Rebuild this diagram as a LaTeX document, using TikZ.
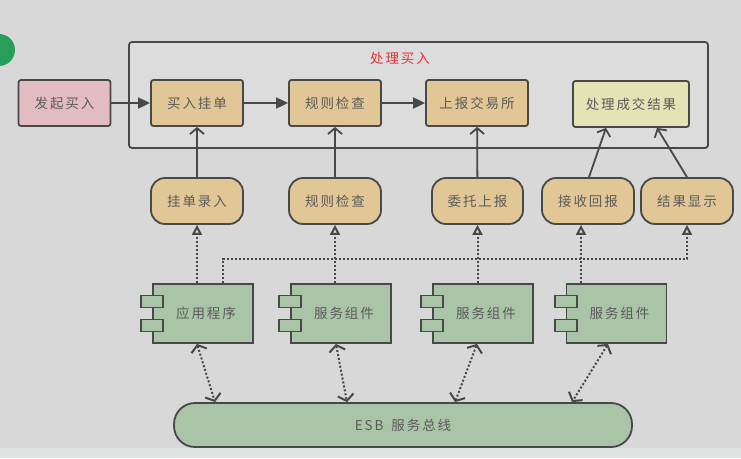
\documentclass[tikz,border=0pt]{standalone}
\usepackage{fontspec}
\setmainfont{Noto Sans CJK SC}[LetterSpace=14]
\usepackage{tikz}
\usetikzlibrary{
  arrows.meta,
  calc,
  positioning,
}
\definecolor{canvas}{RGB}{216, 216, 216}
\definecolor{strip}{RGB}{222, 228, 223}
\definecolor{groupfill}{RGB}{220, 220, 220}
\definecolor{ink}{RGB}{72, 72, 72}
\definecolor{textgray}{RGB}{90, 90, 90}
\definecolor{pinkbox}{RGB}{227, 188, 195}
\definecolor{tanbox}{RGB}{225, 199, 150}
\definecolor{yellowbox}{RGB}{228, 227, 182}
\definecolor{greenbox}{RGB}{170, 196, 167}
\definecolor{titlered}{RGB}{226, 52, 52}
\definecolor{dotgreen}{RGB}{40, 158, 90}
\tikzstyle{arrow} = [
  -{Triangle[length=12pt, width=11pt]},
  line width=1.8pt,
  ink,
]
\tikzstyle{uparrow} = [
  -{Straight Barb[length=6pt, width=14pt]},
  line width=1.8pt,
  ink,
]
\tikzstyle{dep} = [
  -{Triangle[open, length=10pt, width=10pt]},
  line width=2pt,
  dash pattern=on 2pt off 2pt,
  ink,
]
\tikzstyle{bus} = [
  {Straight Barb[length=6pt, width=16pt]}-{Straight Barb[length=6pt, width=16pt]},
  line width=2pt,
  dash pattern=on 2pt off 2pt,
  ink,
]

\begin{document}
\begin{tikzpicture}[x=1pt, y=-1pt,
    font=\fontsize{13.5}{15}\selectfont,
    box/.style={draw=ink, line width=1.8pt, rounded corners=2.5pt,
                text=textgray, minimum width=92pt, minimum height=46pt,
                inner sep=2pt},
    pill/.style={box, rounded corners=14pt},
    comp/.style={box, fill=greenbox, rounded corners=0pt,
                 minimum width=100pt, minimum height=59pt},
    tab/.style={draw=ink, line width=1.8pt, fill=greenbox}]
  \clip (0,0) rectangle (741,458);
  \fill [canvas] (0,0) rectangle (741,458);
  \fill [strip] (0,448) rectangle (741,458);
  \fill [dotgreen] (-1,50) circle (16);

  % process group
  \draw [ink, line width=1.8pt, fill=groupfill, rounded corners=3pt]
        (129,42) rectangle (708,148);
  \node [titlered] (title) at (400,58) {处理买入};

  \node [box, fill=pinkbox] (start) at (64.5,103) {发起买入};
  \node [box, fill=tanbox] (order) at (197,103) {买入挂单};
  \node [box, fill=tanbox] (check) at (335,103) {规则检查};
  \node [box, fill=tanbox, minimum width=102pt] (report) at (477,103)
        {上报交易所};
  \node [box, fill=yellowbox, minimum width=116pt] (result) at (631,104)
        {处理成交结果};

  \draw [arrow] (start) -- (order);
  \draw [arrow] (order) -- (check);
  \draw [arrow] (check) -- (report);

  % services
  \node [pill, fill=tanbox] (entry) at (197,201) {挂单录入};
  \node [pill, fill=tanbox] (rule) at (335,201) {规则检查};
  \node [pill, fill=tanbox, minimum width=91pt] (entrust) at (477.5,201)
        {委托上报};
  \node [pill, fill=tanbox] (recv) at (588,201) {接收回报};
  \node [pill, fill=tanbox] (show) at (687,201) {结果显示};

  \draw [uparrow] (entry) -- (order);
  \draw [uparrow] (rule) -- (check);
  \draw [uparrow] (entrust) -- (report);
  \draw [uparrow] ($(recv.north)+(1,0)$) -- ($(result.south)+(-25,0)$);
  \draw [uparrow] (show.north) -- ($(result.south)+(26,0)$);

  % components
  \node [comp] (app) at (203,313.5) {\hspace{6pt}应用程序};
  \node [comp] (svca) at (341,313.5) {\hspace{6pt}服务组件};
  \node [comp] (svcb) at (483,313.5) {\hspace{6pt}服务组件};
  \node [comp] (svcc) at (616.5,313.5) {\hspace{6pt}服务组件};
  \foreach \c in {app, svca, svcb, svcc}
    \foreach \dy in {-12, 12}
      \draw [tab] ($(\c.west)+(-11,\dy-6)$) rectangle ($(\c.west)+(11,\dy+6)$);

  \draw [dep] (app.north -| entry.south) -- (entry.south);
  \draw [dep] (svca.north -| rule.south) -- (rule.south);
  \draw [dep] (svcb.north -| entrust.south) -- (entrust.south);
  \draw [dep] ($(svcc.north)+(-35.5,0)$) -- ($(recv.south)+(-7,0)$);
  \draw [dep] ($(app.north)+(20,0)$) |- ([yshift=-34pt]show.south)
        -- (show.south);

  % bus
  \node [box, fill=greenbox, rounded corners=21pt, minimum width=458pt,
         minimum height=44pt] (esb) at (403,425) {ESB\hspace{8pt}服务总线};

  \draw [bus] ($(app.south)+(-6,0)$) -- ($(esb.north)+(-188,0)$);
  \draw [bus] ($(svca.south)+(-5,0)$) -- ($(esb.north)+(-56,0)$);
  \draw [bus] ($(svcb.south)+(-6,0)$) -- ($(esb.north)+(52,0)$);
  \draw [bus] ($(svcc.south)+(-8.5,0)$) -- ($(esb.north)+(169,0)$);
\end{tikzpicture}
\end{document}
